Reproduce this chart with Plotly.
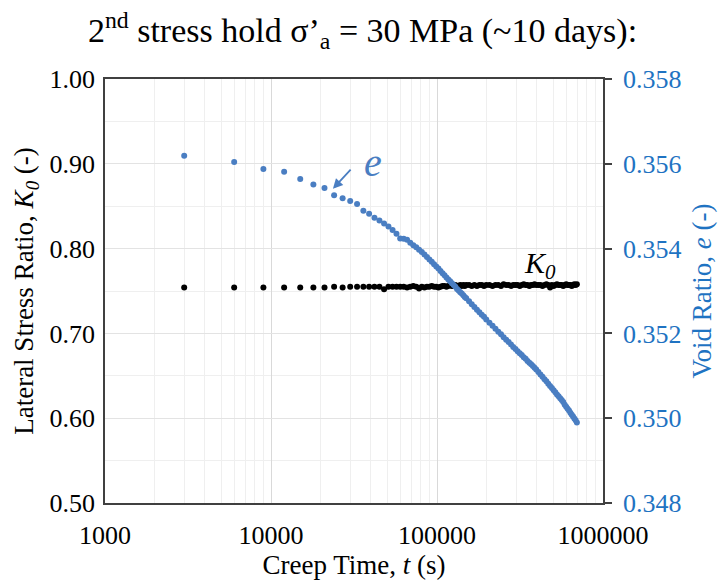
import plotly.graph_objects as go

# ---- data ----
creep_time_s = [
    3000, 6000, 9000, 12000, 15000, 18000, 21000, 24000, 27000, 30000,
    33000, 36000, 39000, 42000, 45000, 48000, 51000, 54000, 57000, 60000,
    63000, 66000, 69000, 72000, 75000, 78000, 81000, 84000, 87000, 90000,
    93000, 96000, 99000, 102000, 105000, 108000, 111000, 114000, 117000, 120000,
    123000, 126000, 129000, 132000, 135000, 138000, 141000, 144000, 147000, 150000,
    156000, 162000, 168000, 174000, 180000, 186000, 192000, 198000,
    207000, 216000, 225000, 234000, 243000, 252000, 261000, 270000, 279000, 288000,
    297000, 306000, 315000, 324000, 333000, 342000, 351000, 360000, 369000, 378000,
    387000, 396000,
    408000, 420000, 432000, 444000, 456000, 468000, 480000, 492000, 504000, 516000,
    528000, 540000, 552000, 564000, 576000, 588000, 600000, 612000, 624000, 636000,
    648000, 660000, 672000, 684000, 696000,
]

void_ratio_e = [
    0.35619, 0.35604, 0.35588, 0.35581, 0.35564, 0.35551, 0.35543, 0.35526, 0.35519, 0.35512,
    0.35505, 0.35489, 0.35482, 0.35473, 0.35466, 0.35459, 0.35452, 0.35444, 0.35435, 0.35424,
    0.35423, 0.35421, 0.35414, 0.35408, 0.35403, 0.35397, 0.35392, 0.35386, 0.35380, 0.35374,
    0.35369, 0.35363, 0.35358, 0.35353, 0.35347, 0.35342, 0.35337, 0.35332, 0.35327, 0.35323,
    0.35318, 0.35314, 0.35310, 0.35305, 0.35301, 0.35297, 0.35294, 0.35290, 0.35286, 0.35283,
    0.35276, 0.35269, 0.35262, 0.35256, 0.35250, 0.35244, 0.35239, 0.35233,
    0.35225, 0.35218, 0.35211, 0.35204, 0.35198, 0.35191, 0.35185, 0.35180, 0.35174, 0.35168,
    0.35163, 0.35158, 0.35153, 0.35149, 0.35144, 0.35140, 0.35135, 0.35131, 0.35127, 0.35123,
    0.35119, 0.35115,
    0.35109, 0.35103, 0.35098, 0.35092, 0.35087, 0.35081, 0.35076, 0.35071, 0.35066, 0.35061,
    0.35056, 0.35052, 0.35047, 0.35043, 0.35038, 0.35032, 0.35027, 0.35022, 0.35018, 0.35013,
    0.35008, 0.35004, 0.34999, 0.34995, 0.34990,
]

lateral_k0 = [
    0.754, 0.754, 0.754, 0.754, 0.754, 0.754, 0.754, 0.755, 0.754, 0.755,
    0.755, 0.755, 0.755, 0.755, 0.755, 0.752, 0.755, 0.755, 0.755, 0.755,
    0.755, 0.754, 0.755, 0.756, 0.755, 0.753, 0.755, 0.754, 0.755, 0.755,
    0.756, 0.755, 0.755, 0.754, 0.755, 0.756, 0.756, 0.755, 0.756, 0.757,
    0.756, 0.756, 0.757, 0.756, 0.756, 0.757, 0.756, 0.757, 0.756, 0.757,
    0.757, 0.756, 0.757, 0.756, 0.757, 0.757, 0.756, 0.757,
    0.757, 0.756, 0.757, 0.757, 0.756, 0.758, 0.757, 0.757, 0.756, 0.757,
    0.757, 0.757, 0.756, 0.757, 0.758, 0.757, 0.757, 0.756, 0.757, 0.757,
    0.758, 0.757,
    0.757, 0.757, 0.756, 0.757, 0.758, 0.757, 0.754, 0.757, 0.756, 0.757,
    0.758, 0.757, 0.757, 0.757, 0.756, 0.757, 0.758, 0.757, 0.757, 0.757,
    0.756, 0.757, 0.758, 0.757, 0.758,
]

x_tickvals = [1000, 10000, 100000, 1000000]
x_ticktext = ["1000", "10000", "100000", "1000000"]

FONT = "Liberation Serif"
BLUE_PTS = "#4A7EC2"
BLUE_AX = "#1F73C2"
TICK_SIZE = 26
TITLE_SIZE = 27

fig = go.Figure()

fig.add_trace(go.Scatter(
    x=creep_time_s, y=lateral_k0, mode="markers", name="K0",
    marker=dict(color="#000000", size=6), yaxis="y", showlegend=False,
))
fig.add_trace(go.Scatter(
    x=creep_time_s, y=void_ratio_e, mode="markers", name="e",
    marker=dict(color=BLUE_PTS, size=6), yaxis="y2", showlegend=False,
))

fig.update_layout(
    width=725, height=586,
    margin=dict(l=105, r=122, t=79, b=83, autoexpand=False),
    paper_bgcolor="white", plot_bgcolor="white",
    font=dict(family=FONT, size=TICK_SIZE, color="#000000"),
    title=dict(
        text="2<sup>nd</sup> stress hold σ’<sub>a</sub> = 30 MPa (~10 days):",
        x=0.5, xref="container", xanchor="center",
        y=1 - 30 / 586, yref="container", yanchor="middle",
        font=dict(family=FONT, size=34, color="#000000"),
    ),
    xaxis=dict(
        type="log", range=[3, 6], automargin=False,
        tickvals=x_tickvals, ticktext=x_ticktext,
        showgrid=True, gridcolor="#D9D9D9", gridwidth=1,
        minor=dict(dtick="D1", showgrid=True, gridcolor="#EFEFEF", gridwidth=1, ticks=""),
        showline=True, linecolor="#404040", linewidth=1.5, mirror=True,
        ticks="", ticklabelstandoff=8,
        tickfont=dict(family=FONT, size=TICK_SIZE, color="#000000"),
        title=dict(text="Creep Time, <i>t</i> (s)", standoff=6,
                   font=dict(family=FONT, size=TITLE_SIZE, color="#000000")),
        zeroline=False,
    ),
    yaxis=dict(
        range=[0.5, 1.0], dtick=0.1, tickformat=".2f", automargin=False,
        showgrid=True, gridcolor="#E3E3E3", gridwidth=1,
        minor=dict(dtick=0.05, showgrid=True, gridcolor="#EFEFEF", gridwidth=1, ticks=""),
        showline=True, linecolor="#404040", linewidth=1.5, mirror=True,
        ticks="", ticklabelstandoff=3,
        tickfont=dict(family=FONT, size=TICK_SIZE, color="#000000"),
        title=dict(text="Lateral Stress Ratio, <i>K<sub>0</sub></i> (-)", standoff=8,
                   font=dict(family=FONT, size=TITLE_SIZE, color="#000000")),
        zeroline=False,
    ),
    yaxis2=dict(
        overlaying="y", side="right", automargin=False,
        range=[0.348, 0.358], dtick=0.002, tickformat=".3f",
        showgrid=False,
        showline=True, linecolor="#404040", linewidth=1.5,
        ticks="outside", ticklen=7, tickcolor="#404040", tickwidth=1.5,
        ticklabelstandoff=6,
        tickfont=dict(family=FONT, size=TICK_SIZE, color=BLUE_AX),
        title=dict(text="Void Ratio, <i>e</i> (-)", standoff=12,
                   font=dict(family=FONT, size=TITLE_SIZE, color=BLUE_AX)),
        zeroline=False,
    ),
)

# in-plot labels
fig.add_annotation(
    x=4.614, y=0.35602, xref="x", yref="y2",
    text="<i>e</i>", showarrow=False,
    font=dict(family=FONT, size=40, color=BLUE_PTS),
    xanchor="center", yanchor="middle",
)
fig.add_annotation(
    x=4.373, y=0.35541, xref="x", yref="y2",
    ax=4.488, ay=0.35590, axref="x", ayref="y2",
    text="", showarrow=True, arrowhead=2, arrowsize=1.1, arrowwidth=1.8,
    arrowcolor=BLUE_PTS,
)
fig.add_annotation(
    x=5.62, y=0.7807, xref="x", yref="y",
    text="<i>K<sub>0</sub></i>", showarrow=False,
    font=dict(family=FONT, size=30, color="#000000"),
    xanchor="center", yanchor="middle",
)

fig.write_html("out.html", config={"displayModeBar": False},
               post_script="document.body.style.margin='0px';")
